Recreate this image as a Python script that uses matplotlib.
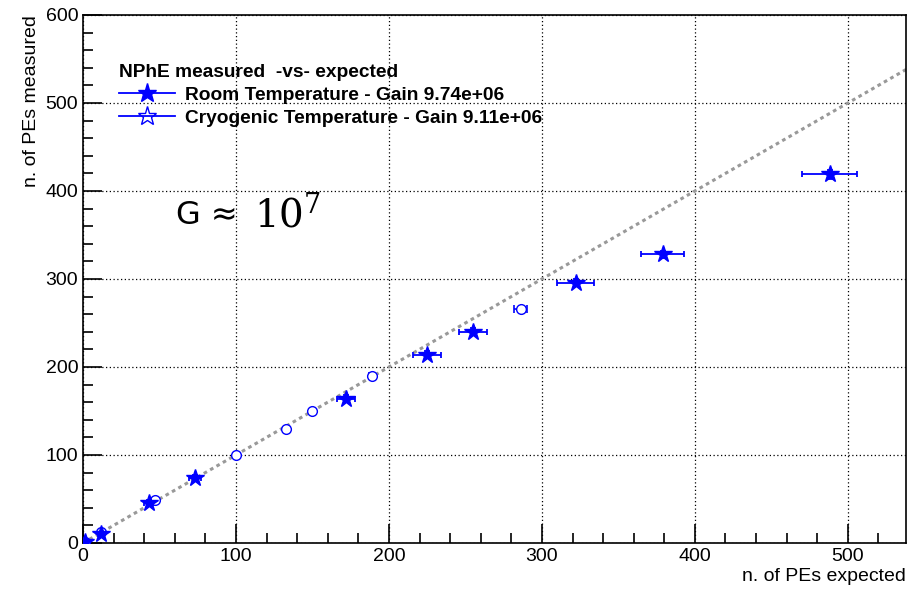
import numpy as np
import matplotlib.pyplot as plt
from matplotlib.lines import Line2D
from matplotlib.ticker import MultipleLocator

# room temperature data
room_x = [1, 12, 43, 73, 172, 225, 255, 322, 379, 488]
room_y = [1, 10, 46, 74, 164, 214, 240, 296, 328, 419]
room_xerr = [1, 2, 3, 4, 6, 9, 9, 12, 14, 18]
room_yerr = [1, 2, 3, 3, 4, 4, 4, 4, 4, 5]

# cryogenic temperature data
cryo_x = [1, 12, 47, 100, 133, 150, 189, 286]
cryo_y = [1, 12, 49, 100, 130, 150, 190, 266]
cryo_xerr = [0.5, 1, 1, 1, 1, 1, 2, 4]

line_x = [0, 540]
line_y = [0, 540]

plt.rcParams['font.family'] = ['Liberation Sans', 'DejaVu Sans']

fig = plt.figure(figsize=(9.08, 5.92), dpi=100)
ax = fig.add_axes([0.0914, 0.0828, 0.9064, 0.8919])

ax.plot(line_x, line_y, color='#999999', linestyle=(0, (1.2, 1.2)), linewidth=2.2, zorder=2)

ax.errorbar(room_x, room_y, xerr=room_xerr, yerr=room_yerr, fmt='*', color='blue',
            markersize=13, elinewidth=1.3, capsize=2.5, capthick=1.3, zorder=4)
ax.errorbar(cryo_x, cryo_y, xerr=cryo_xerr, fmt='o', color='blue',
            markerfacecolor='white', markersize=7, elinewidth=1.2, capsize=3, capthick=1.2, zorder=3)

ax.set_xlim(0, 538)
ax.set_ylim(0, 600)
ax.xaxis.set_major_locator(MultipleLocator(100))
ax.xaxis.set_minor_locator(MultipleLocator(20))
ax.yaxis.set_major_locator(MultipleLocator(100))
ax.yaxis.set_minor_locator(MultipleLocator(20))
ax.tick_params(which='both', direction='in', top=False, right=False, labelsize=14, width=1.2)
ax.tick_params(which='major', length=14)
ax.tick_params(which='minor', length=7)
ax.grid(True, which='major', color='black', linestyle=(0, (1, 2)), linewidth=0.9)
for s in ax.spines.values():
    s.set_linewidth(1.2)

ax.set_xlabel('n. of PEs expected', fontsize=14, loc='right', labelpad=2)
ax.set_ylabel('n. of PEs measured', fontsize=14, loc='top', labelpad=4)

handles = [
    Line2D([], [], color='blue', marker='*', markersize=14, linewidth=1.3),
    Line2D([], [], color='blue', marker='*', markerfacecolor='none', markersize=14, linewidth=1.3),
]
leg = ax.legend(handles, ['Room Temperature - Gain 9.74e+06', 'Cryogenic Temperature - Gain 9.11e+06'],
                title='NPhE measured  -vs- expected', loc='upper left',
                bbox_to_anchor=(0.044, 0.908), frameon=False, handlelength=2.9,
                handletextpad=0.55, prop={'size': 13.8, 'weight': 'bold'},
                borderaxespad=0, borderpad=0, labelspacing=0.3)
leg.get_title().set_fontweight('bold')
leg.get_title().set_fontsize(13.8)
leg._legend_box.align = 'left'
leg._legend_box.sep = 4

ax.text(61, 372, 'G \u2248', fontsize=23, family='DejaVu Sans', va='center')
ax.text(112, 359, r'$10^7$', fontsize=28, math_fontfamily='dejavuserif', va='baseline')

fig.savefig('out.png', dpi=100)
